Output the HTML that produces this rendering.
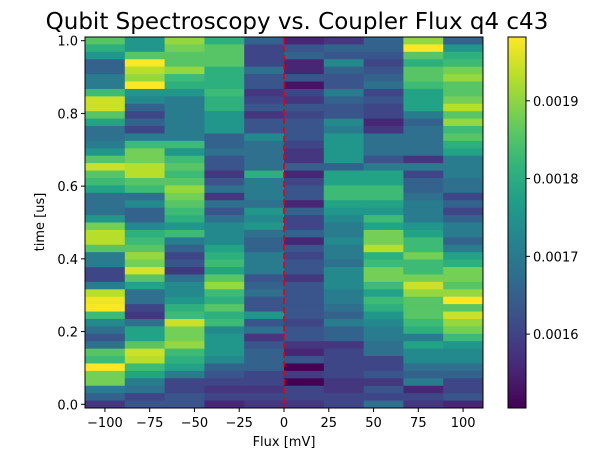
<!DOCTYPE html>
<html><head><meta charset="utf-8"><style>
body{margin:0;background:#fff;}
svg{display:block;font-family:"DejaVu Sans","Liberation Sans",sans-serif;}
</style></head><body>
<svg id="chart" width="593" height="460" viewBox="0 0 593 460">
<defs><linearGradient id="vir" x1="0" y1="1" x2="0" y2="0"></linearGradient></defs>
<text x="297" y="29" text-anchor="middle" font-size="23" fill="#000">Qubit Spectroscopy vs. Coupler Flux q4 c43</text>
<g id="cells"></g>
<g id="axes"></g>
<text x="284" y="446" text-anchor="middle" font-size="13">Flux [mV]</text>
<text transform="translate(44,222) rotate(-90)" text-anchor="middle" font-size="13">time [us]</text>
</svg>
<script>
const fluxValues = [-100,-77.78,-55.56,-33.33,-11.11,11.11,33.33,55.56,77.78,100];
const xTicks = [-100,-75,-50,-25,0,25,50,75,100];
const yTicks = [0,0.2,0.4,0.6,0.8,1.0];
const yTickLabels = ["0.0","0.2","0.4","0.6","0.8","1.0"];
const cbTicks = [0.0016,0.0017,0.0018,0.0019];
const cbTickLabels = ["0.0016","0.0017","0.0018","0.0019"];
// rows listed from time=1.0 (top) down to time=0.0; values in 1e-6 units
const signalRows = [
[1855,1755,1905,1805,1655,1555,1580,1655,1905,1655],
[1805,1755,1880,1855,1605,1630,1655,1655,1980,1755],
[1755,1855,1855,1855,1605,1655,1630,1630,1855,1805],
[1655,1980,1855,1855,1605,1555,1730,1605,1805,1830],
[1655,1930,1905,1805,1680,1555,1655,1630,1855,1880],
[1705,1905,1830,1805,1630,1630,1630,1655,1855,1905],
[1705,1995,1805,1805,1630,1530,1630,1680,1830,1855],
[1830,1755,1755,1830,1580,1605,1705,1605,1780,1855],
[1945,1730,1705,1805,1605,1580,1655,1630,1780,1880],
[1945,1655,1705,1805,1630,1630,1630,1605,1780,1930],
[1855,1605,1705,1755,1580,1605,1630,1605,1705,1855],
[1780,1655,1705,1755,1630,1630,1730,1555,1655,1905],
[1680,1605,1705,1755,1630,1630,1705,1580,1680,1830],
[1680,1705,1705,1655,1730,1630,1755,1680,1680,1855],
[1705,1830,1830,1655,1680,1605,1755,1680,1680,1805],
[1755,1880,1755,1680,1680,1580,1755,1680,1680,1780],
[1855,1880,1830,1630,1680,1580,1755,1630,1580,1705],
[1945,1930,1855,1630,1680,1655,1655,1705,1705,1705],
[1855,1930,1830,1580,1805,1555,1780,1780,1605,1705],
[1830,1855,1855,1630,1705,1605,1780,1780,1655,1680],
[1780,1830,1905,1680,1705,1630,1830,1830,1655,1680],
[1680,1680,1880,1580,1705,1630,1830,1830,1680,1605],
[1680,1730,1855,1680,1680,1555,1780,1780,1705,1655],
[1680,1655,1830,1630,1755,1655,1755,1755,1705,1605],
[1755,1655,1805,1680,1730,1605,1730,1830,1705,1655],
[1880,1730,1755,1730,1755,1605,1705,1780,1755,1705],
[1930,1805,1830,1730,1680,1655,1705,1880,1780,1705],
[1930,1830,1705,1730,1655,1555,1730,1880,1830,1655],
[1855,1855,1655,1780,1655,1630,1705,1930,1830,1705],
[1705,1905,1605,1805,1705,1605,1705,1805,1880,1780],
[1705,1880,1630,1830,1705,1630,1680,1830,1830,1805],
[1605,1955,1580,1780,1705,1630,1730,1880,1830,1880],
[1605,1855,1680,1855,1630,1580,1730,1880,1880,1880],
[1705,1780,1730,1905,1655,1630,1730,1830,1945,1855],
[1930,1680,1730,1830,1680,1630,1705,1780,1905,1905],
[1970,1680,1755,1805,1630,1630,1705,1830,1855,1995],
[1995,1605,1805,1855,1630,1630,1680,1805,1855,1855],
[1830,1580,1830,1805,1755,1630,1655,1755,1855,1945],
[1730,1680,1945,1830,1630,1605,1705,1730,1830,1905],
[1680,1780,1880,1730,1680,1630,1655,1705,1805,1880],
[1630,1780,1880,1755,1580,1630,1655,1705,1705,1830],
[1680,1855,1905,1755,1630,1580,1580,1680,1780,1755],
[1855,1945,1830,1755,1655,1555,1605,1680,1730,1730],
[1830,1930,1805,1730,1655,1630,1605,1605,1730,1730],
[1995,1830,1780,1655,1655,1505,1605,1605,1680,1680],
[1880,1780,1705,1630,1605,1590,1605,1630,1655,1655],
[1880,1705,1605,1605,1605,1505,1580,1580,1705,1605],
[1705,1680,1605,1580,1580,1605,1580,1630,1555,1605],
[1655,1605,1630,1605,1605,1605,1605,1605,1605,1630],
[1580,1630,1630,1555,1580,1580,1605,1680,1580,1555]
];
const vmin = 0.001505, vmax = 0.001982;
const V = [[68,1,84],[72,40,120],[62,74,137],[49,104,142],[38,130,142],[31,158,137],[53,183,121],[110,206,88],[181,222,43],[253,231,37]];
function viridis(t){t=Math.max(0,Math.min(1,t));const s=t*9,i=Math.min(8,Math.floor(s)),f=s-i;
 const c=V[i].map((a,k)=>Math.round(a+(V[i+1][k]-a)*f));return `rgb(${c[0]},${c[1]},${c[2]})`;}
const NS="http://www.w3.org/2000/svg";
const X0=85,X1=483,Y0=37,Y1=408;
const xmin=-111.11,xmax=111.11;
const nRows=signalRows.length, dt=1/(nRows-1);
const ylo=-dt/2, yhi=1+dt/2;
const xs=v=>X0+(v-xmin)/(xmax-xmin)*(X1-X0);
const ys=v=>Y1-(v-ylo)/(yhi-ylo)*(Y1-Y0);
const cells=document.getElementById('cells');
const dx=(fluxValues[1]-fluxValues[0]);
signalRows.forEach((row,i)=>{
 const t=1-i*dt;
 row.forEach((val,j)=>{
  const v=val*1e-6;
  const r=document.createElementNS(NS,'rect');
  const xa=xs(fluxValues[j]-dx/2), xb=xs(fluxValues[j]+dx/2);
  const ya=ys(t+dt/2), yb=ys(t-dt/2);
  r.setAttribute('x',xa);r.setAttribute('y',ya);
  r.setAttribute('width',xb-xa+0.4);r.setAttribute('height',yb-ya+0.4);
  r.setAttribute('fill',viridis((v-vmin)/(vmax-vmin)));
  
  
  cells.appendChild(r);
 });
});
const ax=document.getElementById('axes');
function el(tag,attrs,parent){const e=document.createElementNS(NS,tag);for(const k in attrs)e.setAttribute(k,attrs[k]);(parent||ax).appendChild(e);return e;}
const zl=el('line',{x1:xs(0),x2:xs(0),y1:Y0,y2:Y1,stroke:'#e8000b','stroke-width':1.6,'stroke-dasharray':'6,3'});


const fr=el('rect',{x:X0,y:Y0,width:X1-X0,height:Y1-Y0,fill:'none',stroke:'#000','stroke-width':1});


xTicks.forEach(v=>{
 const x=xs(v);
 el('line',{x1:x,x2:x,y1:Y1,y2:Y1+4,stroke:'#000'});
 const t=el('text',{x:x,y:Y1+19,'text-anchor':'middle','font-size':13});
 t.textContent=(v<0?'\u2212'+(-v):String(v));
 
 
});
yTicks.forEach((v,i)=>{
 const y=ys(v);
 el('line',{x1:X0-4,x2:X0,y1:y,y2:y,stroke:'#000'});
 const t=el('text',{x:X0-7,y:y+5,'text-anchor':'end','font-size':13});
 t.textContent=yTickLabels[i];
 
 
});
const grad=document.getElementById('vir');
for(let k=0;k<=20;k++){el('stop',{offset:k/20,'stop-color':viridis(k/20)},grad);}
const CX0=508,CX1=526;
const cb=el('rect',{x:CX0,y:Y0,width:CX1-CX0,height:Y1-Y0,fill:'url(#vir)',stroke:'#000','stroke-width':1});


const cs=v=>Y1-(v-vmin)/(vmax-vmin)*(Y1-Y0);
cbTicks.forEach((v,i)=>{
 const y=cs(v);
 el('line',{x1:CX1,x2:CX1+4,y1:y,y2:y,stroke:'#000'});
 const t=el('text',{x:CX1+7,y:y+5,'font-size':13});
 t.textContent=cbTickLabels[i];
 
 
});
</script>
</body></html>
